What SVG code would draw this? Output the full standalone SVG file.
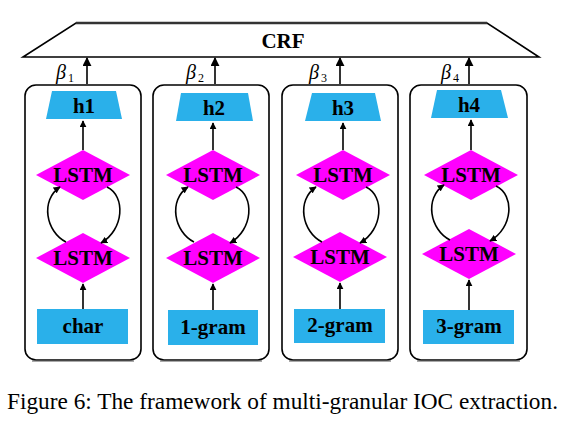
<svg xmlns="http://www.w3.org/2000/svg" width="570" height="423" viewBox="0 0 570 423">
<defs>
<marker id="ah" viewBox="0 0 10 10" refX="9" refY="5" markerWidth="7" markerHeight="7" markerUnits="userSpaceOnUse" orient="auto">
<path d="M0,0 L10,5 L0,10 z" fill="#000"/>
</marker>
<marker id="ah2" viewBox="0 0 10 10" refX="9" refY="5" markerWidth="9" markerHeight="9" markerUnits="userSpaceOnUse" orient="auto">
<path d="M0,0 L10,5 L0,10 z" fill="#000"/>
</marker>
</defs>
<style>
.lbl{font-family:'Liberation Serif','Times New Roman',serif;font-weight:bold;font-size:21px;text-anchor:middle;fill:#000}
.beta{font-family:'Liberation Serif','Times New Roman',serif;font-style:italic;font-size:20px;fill:#000}
.sub{font-family:'Liberation Serif','Times New Roman',serif;font-size:12px;fill:#000}
.box{fill:none;stroke:#000;stroke-width:1.6}
.cyan{fill:#2AB0EA}
.mag{fill:#FF00FF}
.ln{fill:none;stroke:#000;stroke-width:1.6}
.cap{font-family:'Liberation Serif','Times New Roman',serif;font-size:23px;fill:#000}
</style>
<rect width="570" height="423" fill="#fff"/>

<g id="crf">
<path d="M76,23 L487,23 L539,57 L23,57 Z" fill="#fff" stroke="#000" stroke-width="1.6"/>
<line x1="76" y1="23" x2="487" y2="23" stroke="#333" stroke-width="2.4"/>
<text class="lbl" x="283" y="48">CRF</text>
</g>

<g id="box1">
<rect class="box" x="25" y="85" width="116" height="275" rx="11"/>
<line x1="32" y1="361" x2="134" y2="361" stroke="#555" stroke-width="1.2"/>
</g>
<g id="box2">
<rect class="box" x="153" y="85" width="116" height="275" rx="11"/>
<line x1="160" y1="361" x2="262" y2="361" stroke="#555" stroke-width="1.2"/>
</g>
<g id="box3">
<rect class="box" x="282" y="85" width="116" height="275" rx="11"/>
<line x1="289" y1="361" x2="391" y2="361" stroke="#555" stroke-width="1.2"/>
</g>
<g id="box4">
<rect class="box" x="410" y="85" width="117" height="275" rx="11"/>
<line x1="417" y1="361" x2="520" y2="361" stroke="#555" stroke-width="1.2"/>
</g>

<g id="h1"><path class="cyan" d="M52,91 L116,91 L122,119 L46,119 Z"/><text class="lbl" x="84" y="113">h1</text></g>
<g id="h2"><path class="cyan" d="M181,93 L248,93 L253,121 L176,121 Z"/><text class="lbl" x="214" y="115">h2</text></g>
<g id="h3"><path class="cyan" d="M312,93 L375,93 L381,121 L305,121 Z"/><text class="lbl" x="343" y="115">h3</text></g>
<g id="h4"><path class="cyan" d="M437,90 L501,90 L508,118 L431,118 Z"/><text class="lbl" x="469" y="112">h4</text></g>

<g id="lstm1a"><path class="mag" d="M83,150 L130,175 L83,200 L36,175 Z"/><text class="lbl" x="83" y="182">LSTM</text></g>
<g id="lstm1b"><path class="mag" d="M83,233 L130,258 L83,283 L36,258 Z"/><text class="lbl" x="83" y="265">LSTM</text></g>
<g id="lstm2a"><path class="mag" d="M213,150 L260,175 L213,200 L166,175 Z"/><text class="lbl" x="213" y="182">LSTM</text></g>
<g id="lstm2b"><path class="mag" d="M213,233 L260,258 L213,283 L166,258 Z"/><text class="lbl" x="213" y="265">LSTM</text></g>
<g id="lstm3a"><path class="mag" d="M343,150 L390,175 L343,200 L296,175 Z"/><text class="lbl" x="343" y="182">LSTM</text></g>
<g id="lstm3b"><path class="mag" d="M340,232 L387,257 L340,282 L293,257 Z"/><text class="lbl" x="340" y="264">LSTM</text></g>
<g id="lstm4a"><path class="mag" d="M471,150 L518,175 L471,200 L424,175 Z"/><text class="lbl" x="471" y="182">LSTM</text></g>
<g id="lstm4b"><path class="mag" d="M469,229 L516,254 L469,279 L422,254 Z"/><text class="lbl" x="469" y="261">LSTM</text></g>

<g id="in1"><rect class="cyan" x="37" y="309" width="91" height="35"/><text class="lbl" x="83" y="333">char</text></g>
<g id="in2"><rect class="cyan" x="168" y="310" width="90" height="35"/><text class="lbl" x="213" y="334">1-gram</text></g>
<g id="in3"><rect class="cyan" x="294" y="309" width="91" height="34"/><text class="lbl" x="340" y="332">2-gram</text></g>
<g id="in4"><rect class="cyan" x="423" y="310" width="91" height="34"/><text class="lbl" x="469" y="333">3-gram</text></g>

<g id="betas">
<text class="beta" x="56" y="79">β</text><text class="sub" x="68" y="82">1</text>
<text class="beta" x="186" y="79">β</text><text class="sub" x="198" y="82">2</text>
<text class="beta" x="309" y="79">β</text><text class="sub" x="321" y="82">3</text>
<text class="beta" x="441" y="79">β</text><text class="sub" x="453" y="82">4</text>
</g>

<g id="connectors">
<line class="ln" x1="87" y1="84" x2="87" y2="58" marker-end="url(#ah2)"/>
<line class="ln" x1="215" y1="84" x2="215" y2="58" marker-end="url(#ah2)"/>
<line class="ln" x1="340" y1="84" x2="340" y2="58" marker-end="url(#ah2)"/>
<line class="ln" x1="469" y1="84" x2="469" y2="58" marker-end="url(#ah2)"/>

<line class="ln" x1="83" y1="150" x2="83" y2="121" marker-end="url(#ah)"/>
<line class="ln" x1="213" y1="150" x2="213" y2="123" marker-end="url(#ah)"/>
<line class="ln" x1="343" y1="150" x2="343" y2="123" marker-end="url(#ah)"/>
<line class="ln" x1="471" y1="150" x2="471" y2="120" marker-end="url(#ah)"/>

<line class="ln" x1="83" y1="309" x2="83" y2="284" marker-end="url(#ah)"/>
<line class="ln" x1="213" y1="310" x2="213" y2="284" marker-end="url(#ah)"/>
<line class="ln" x1="340" y1="309" x2="340" y2="283" marker-end="url(#ah)"/>
<line class="ln" x1="469" y1="310" x2="469" y2="280" marker-end="url(#ah)"/>

<path class="ln" d="M66,242 C46,232 40,200 60,187" marker-end="url(#ah)"/>
<path class="ln" d="M107,187 C126,196 124,230 101,243" marker-end="url(#ah)"/>
<path class="ln" d="M194,242 C174,232 168,200 188,187" marker-end="url(#ah)"/>
<path class="ln" d="M236,187 C255,196 253,230 230,243" marker-end="url(#ah)"/>
<path class="ln" d="M322,242 C302,232 296,200 316,187" marker-end="url(#ah)"/>
<path class="ln" d="M366,187 C385,196 383,230 360,243" marker-end="url(#ah)"/>
<path class="ln" d="M450,240 C430,230 424,198 444,185" marker-end="url(#ah)"/>
<path class="ln" d="M496,186 C515,195 513,228 490,241" marker-end="url(#ah)"/>
</g>

<text class="cap" x="7" y="409" textLength="551" lengthAdjust="spacingAndGlyphs">Figure 6: The framework of multi-granular IOC extraction.</text>
</svg>
